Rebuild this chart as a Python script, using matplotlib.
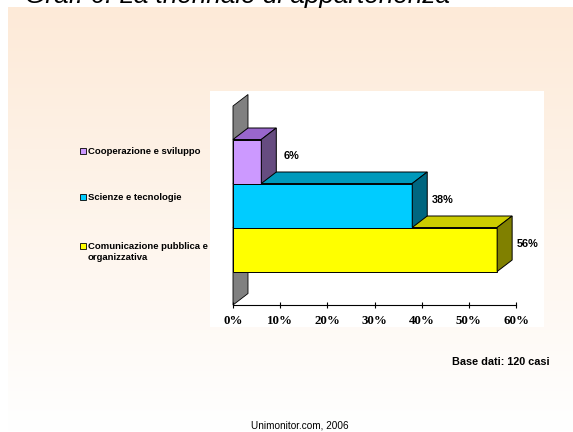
import numpy as np
import matplotlib
matplotlib.use("Agg")
import matplotlib.pyplot as plt
from matplotlib.patches import Polygon, Rectangle

# ── data ──
series = ["Comunicazione pubblica e\norganizzativa", "Scienze e tecnologie", "Cooperazione e sviluppo"]
values = [56, 38, 6]
front_cols = ["#FFFF00", "#00CCFF", "#CC99FF"]
top_cols = ["#CCCC00", "#0099BB", "#9966CC"]
side_cols = ["#808000", "#006680", "#664C80"]
xticks = [0, 10, 20, 30, 40, 50, 60]
xtick_labels = ["0%", "10%", "20%", "30%", "40%", "50%", "60%"]

title = "Graf. 6: La triennale di appartenenza"
base_note = "Base dati: 120 casi"
source = "Unimonitor.com, 2006"

W, H = 573, 432
fig = plt.figure(figsize=(W / 100, H / 100), dpi=100)

# ── background layer in pixel coords ──
bg = fig.add_axes([0, 0, 1, 1])
bg.set_xlim(0, W)
bg.set_ylim(H, 0)
bg.axis("off")
top_rgb = np.array([253, 234, 216]) / 255.0
t = np.linspace(0, 1, 256)[:, None]
grad = top_rgb[None, :] * (1 - t) + np.ones(3)[None, :] * t
grad = np.repeat(grad[:, None, :], 2, axis=1)
bg.imshow(grad, extent=[8, W, H, 7], aspect="auto", interpolation="bilinear", zorder=0)
bg.set_xlim(0, W)
bg.set_ylim(H, 0)
bg.add_patch(Rectangle((210, 91), 334, 236, facecolor="white", edgecolor="none", zorder=1))

# title sits partly above the top edge, as in the original
bg.text(25, 3.5, title, fontsize=18.8, style="italic", family="Liberation Sans",
        va="baseline", ha="left", zorder=2)

# legend
leg_y = [246, 197, 151]
for lbl, col, yy in zip(series, front_cols, leg_y):
    bg.add_patch(Rectangle((79.5, yy - 3), 6, 6, facecolor=col, edgecolor="black",
                           linewidth=0.6, zorder=2))
    off = 6 if "\n" in lbl else 0
    bg.text(88, yy + off, lbl, fontsize=6.8, fontweight="bold", family="Liberation Sans",
            va="center", ha="left", linespacing=1.25, zorder=2)

bg.text(550, 362, base_note, fontsize=7.8, fontweight="bold", family="Liberation Sans",
        va="center", ha="right", zorder=2)
bg.text(300, 426, source, fontsize=7.2, family="Liberation Sans",
        va="center", ha="center", zorder=2)

# ── chart axes: x 0..60 -> px 233..516, y 0..1 -> px 305..106 ──
x0, x1, yb, yt = 233, 516, 305, 106
ax = fig.add_axes([x0 / W, (H - yb) / H, (x1 - x0) / W, (yb - yt) / H])
ax.patch.set_alpha(0)
ax.set_xlim(0, 60)
ax.set_ylim(0, 1)
px_x = 60 / (x1 - x0)
px_y = 1 / (yb - yt)
dx = 15 * px_x
dy = 11.5 * px_y

# back wall
ax.add_patch(Polygon([(0, 0), (dx, dy), (dx, 1 + dy), (0, 1)], closed=True,
                     facecolor="#808080", edgecolor="black", linewidth=0.6, clip_on=False))

bar_h = 44 * px_y
start = 0.5 - 1.5 * bar_h
for i, (v, fc, tc, sc) in enumerate(zip(values, front_cols, top_cols, side_cols)):
    y0 = start + i * bar_h
    y1 = y0 + bar_h
    ax.add_patch(Polygon([(0, y0), (v, y0), (v, y1), (0, y1)], closed=True,
                         facecolor=fc, edgecolor="black", linewidth=0.7, clip_on=False))
    ax.add_patch(Polygon([(0, y1), (v, y1), (v + dx, y1 + dy), (dx, y1 + dy)], closed=True,
                         facecolor=tc, edgecolor="black", linewidth=0.7, clip_on=False))
    ax.add_patch(Polygon([(v, y0), (v + dx, y0 + dy), (v + dx, y1 + dy), (v, y1)], closed=True,
                         facecolor=sc, edgecolor="black", linewidth=0.7, clip_on=False))
    ax.text(v + dx + 3.2, (y0 + y1) / 2 + dy / 2, f"{v}%", fontsize=7.8, fontweight="bold",
            family="Liberation Sans", ha="center", va="center", clip_on=False)

for s in ["top", "right", "left"]:
    ax.spines[s].set_visible(False)
ax.spines["bottom"].set_linewidth(0.8)
ax.set_yticks([])
ax.set_xticks(xticks)
ax.set_xticklabels(xtick_labels, fontsize=9.3, fontweight="bold", family="Liberation Serif")
ax.tick_params(axis="x", direction="inout", length=4, width=0.8, pad=5)

fig.savefig("out.png", dpi=100)
